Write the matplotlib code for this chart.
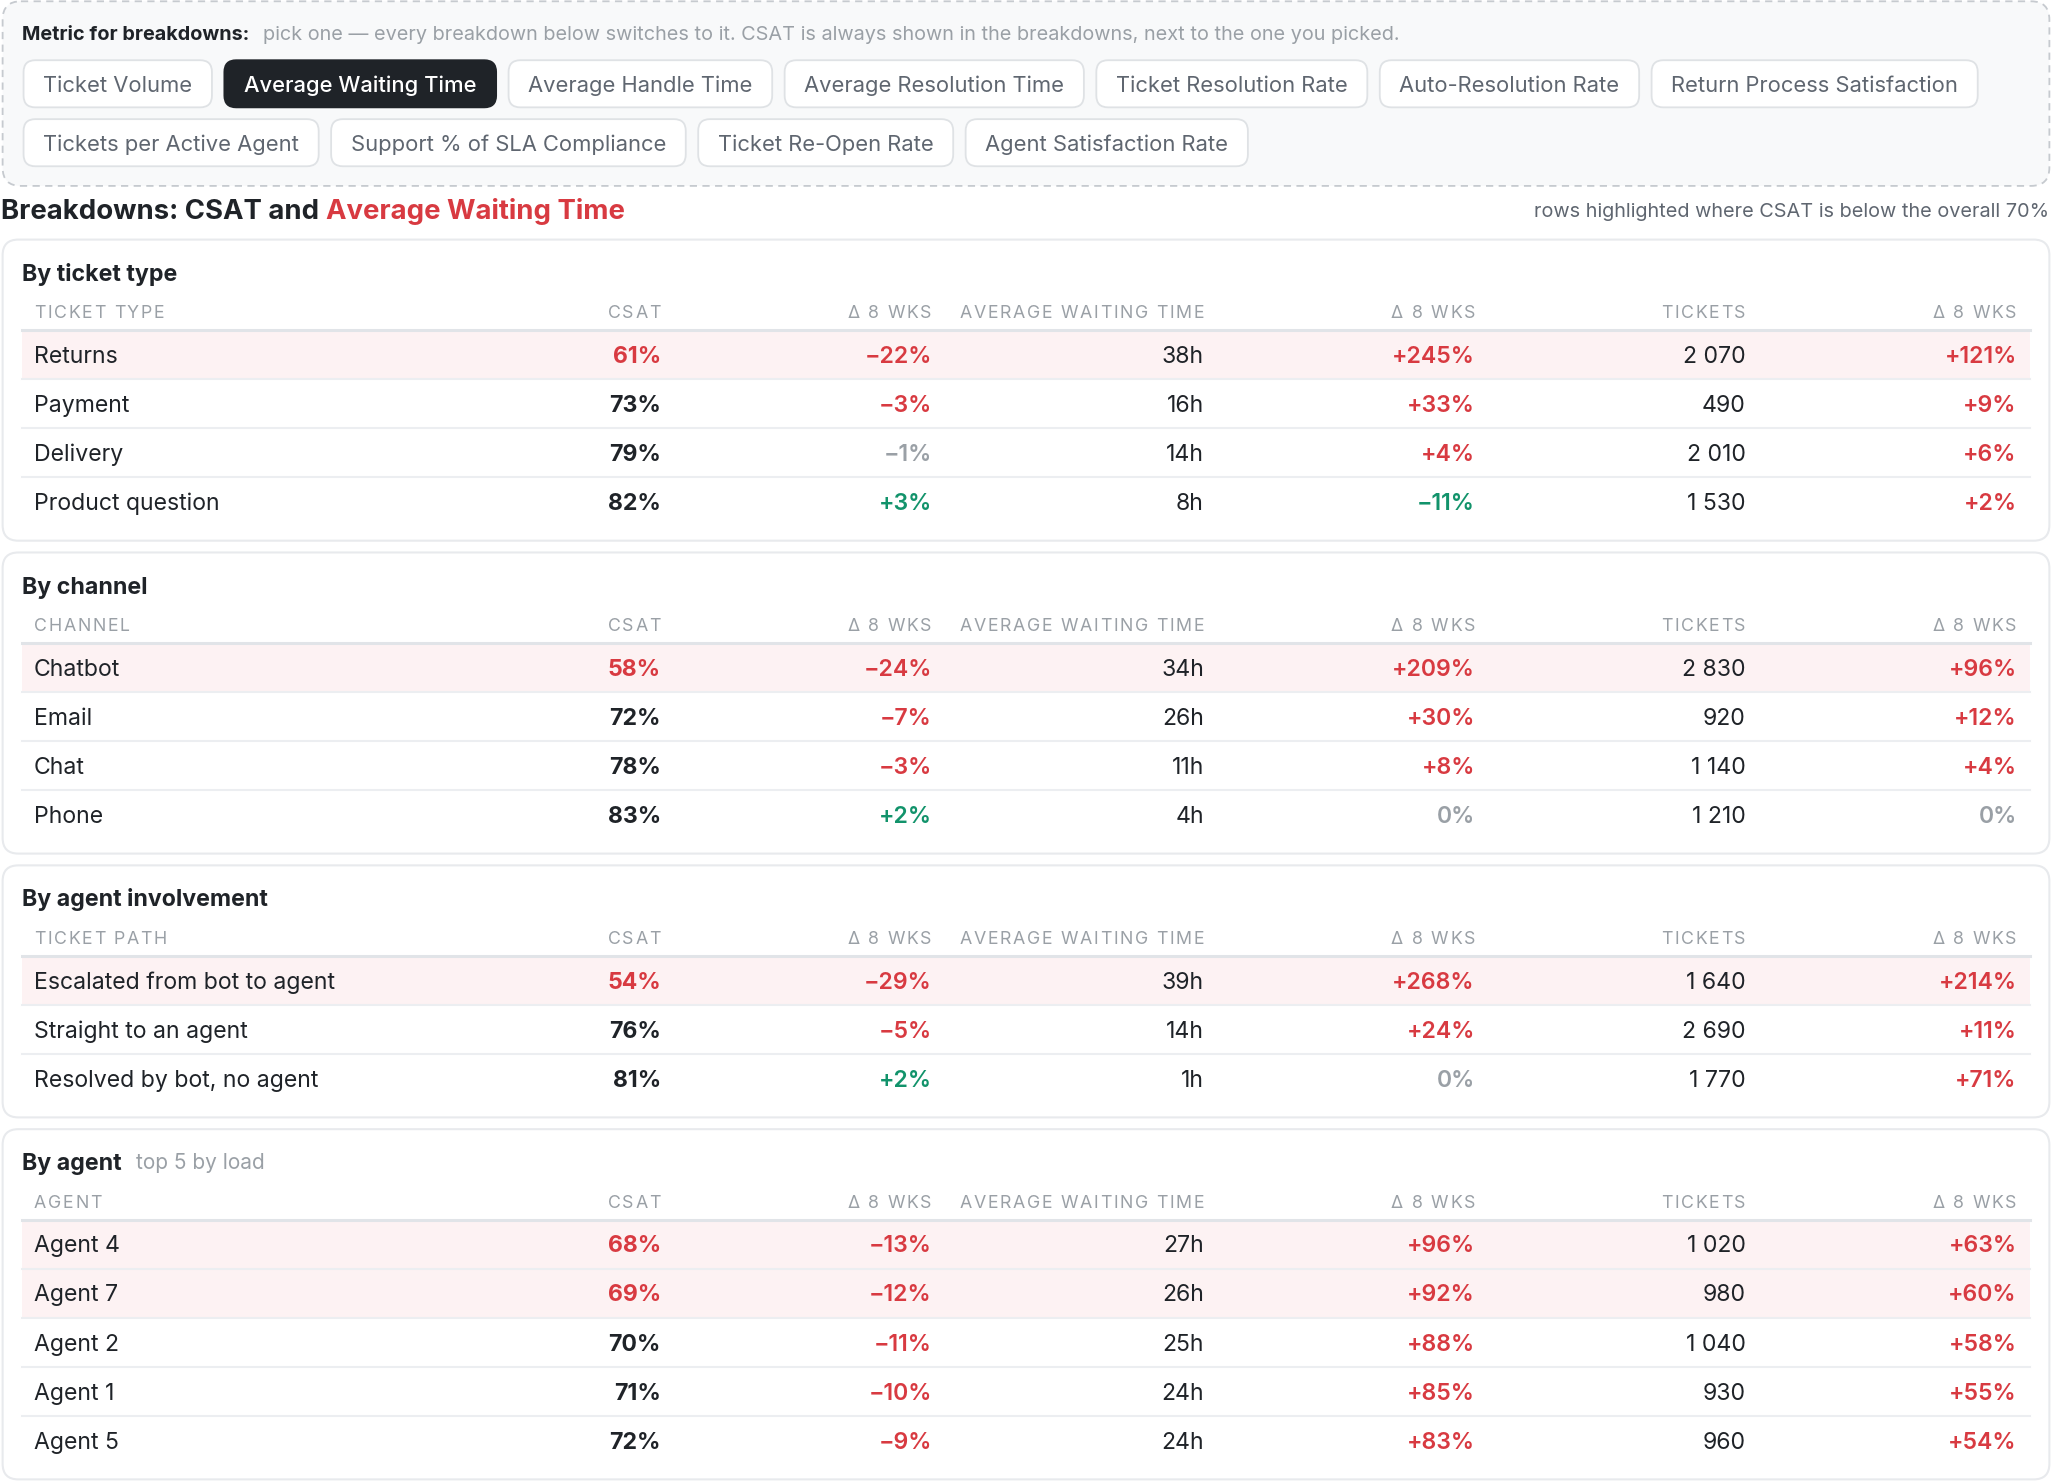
import matplotlib
matplotlib.use("Agg")
import matplotlib.pyplot as plt
from matplotlib.patches import FancyBboxPatch, Rectangle

plt.rcParams['font.family'] = ['Inter', 'DejaVu Sans']

# ---- data ----
metrics = ["Ticket Volume", "Average Waiting Time", "Average Handle Time",
           "Average Resolution Time", "Ticket Resolution Rate", "Auto-Resolution Rate",
           "Return Process Satisfaction", "Tickets per Active Agent",
           "Support % of SLA Compliance", "Ticket Re-Open Rate", "Agent Satisfaction Rate"]
selected_metric = "Average Waiting Time"
overall_csat = 70

section_titles = ["By ticket type", "By channel", "By agent involvement", "By agent"]
section_notes = ["", "", "", "top 5 by load"]
first_col_names = ["TICKET TYPE", "CHANNEL", "TICKET PATH", "AGENT"]
col_headers = ["CSAT", "\u0394 8 WKS", "AVERAGE WAITING TIME", "\u0394 8 WKS", "TICKETS", "\u0394 8 WKS"]

ticket_types = ["Returns", "Payment", "Delivery", "Product question"]
tt_csat = [61, 73, 79, 82]
tt_csat_d = [-22, -3, -1, 3]
tt_wait = [38, 16, 14, 8]
tt_wait_d = [245, 33, 4, -11]
tt_tickets = [2070, 490, 2010, 1530]
tt_tickets_d = [121, 9, 6, 2]

channels = ["Chatbot", "Email", "Chat", "Phone"]
ch_csat = [58, 72, 78, 83]
ch_csat_d = [-24, -7, -3, 2]
ch_wait = [34, 26, 11, 4]
ch_wait_d = [209, 30, 8, 0]
ch_tickets = [2830, 920, 1140, 1210]
ch_tickets_d = [96, 12, 4, 0]

paths = ["Escalated from bot to agent", "Straight to an agent", "Resolved by bot, no agent"]
pa_csat = [54, 76, 81]
pa_csat_d = [-29, -5, 2]
pa_wait = [39, 14, 1]
pa_wait_d = [268, 24, 0]
pa_tickets = [1640, 2690, 1770]
pa_tickets_d = [214, 11, 71]

agents = ["Agent 4", "Agent 7", "Agent 2", "Agent 1", "Agent 5"]
ag_csat = [68, 69, 70, 71, 72]
ag_csat_d = [-13, -12, -11, -10, -9]
ag_wait = [27, 26, 25, 24, 24]
ag_wait_d = [96, 92, 88, 85, 83]
ag_tickets = [1020, 980, 1040, 930, 960]
ag_tickets_d = [63, 60, 58, 55, 54]

sections = [
    (ticket_types, tt_csat, tt_csat_d, tt_wait, tt_wait_d, tt_tickets, tt_tickets_d),
    (channels, ch_csat, ch_csat_d, ch_wait, ch_wait_d, ch_tickets, ch_tickets_d),
    (paths, pa_csat, pa_csat_d, pa_wait, pa_wait_d, pa_tickets, pa_tickets_d),
    (agents, ag_csat, ag_csat_d, ag_wait, ag_wait_d, ag_tickets, ag_tickets_d),
]

# ---- styling ----
DARK = "#1f2328"
GREY = "#9aa0a6"
MID = "#5f6670"
RED = "#d83a41"
GREEN = "#12936b"
HL = "#fdf2f3"
W, H = 1568, 1132
S = 2052 / W
BODY = 16.6

fig = plt.figure(figsize=(20.52, 14.82), dpi=100)
ax = fig.add_axes([0, 0, 1, 1])
ax.set_xlim(0, W)
ax.set_ylim(H, 0)
ax.axis('off')
renderer = fig.canvas.get_renderer()


def put(x, y, s, size, color=DARK, weight='normal', ha='left'):
    em = size / 0.72 / S
    return ax.text(x, y + 0.36 * em, s, fontsize=size, color=color,
                   fontweight=weight, ha=ha, va='baseline')


def right_edge(t):
    bb = t.get_window_extent(renderer)
    return ax.transData.inverted().transform((bb.x1, bb.y0))[0]


def measure(s, size, weight='normal'):
    t = ax.text(0, 0, s, fontsize=size, fontweight=weight)
    w = t.get_window_extent(renderer).width / S
    t.remove()
    return w


def spaced(x, y, s, size, color, ha='left', track=1.3):
    # uppercase header with letter spacing
    total = measure(s, size) + track * (len(s) - 1)
    x0 = x - total if ha == 'right' else x
    for i, ch in enumerate(s):
        if ch == " ":
            continue
        put(x0 + measure(s[:i + 1], size) + i * track, y, ch, size, color, ha='right')


def fmt_delta(d):
    if d == 0:
        return "0%"
    return f"+{d}%" if d > 0 else f"\u2212{abs(d)}%"


def delta_color(d, good_up):
    if abs(d) <= 1:
        return GREY
    better = d > 0 if good_up else d < 0
    return GREEN if better else RED


# ---- metric picker ----
ax.add_patch(FancyBboxPatch((2, 1), W - 4, 141, boxstyle="round,pad=0,rounding_size=14",
                            fc="#f8f9fa", ec="#c6cacf", lw=1.3, ls=(0, (4, 3))))
t = put(17, 25, "Metric for breakdowns:", 14.3, DARK, 'bold')
put(right_edge(t) + 10, 25, "pick one \u2014 every breakdown below switches to it. "
    "CSAT is always shown in the breakdowns, next to the one you picked.", 14.3, GREY)

bx, by = 18, 64
for m in metrics:
    sel = m == selected_metric
    tw = measure(m, 15.8, 'medium' if sel else 'normal')
    bw = tw + 30
    if bx + bw > 1550:
        bx, by = 18, by + 45
    tt = put(bx + 15, by, m, 15.8, "white" if sel else MID, 'medium' if sel else 'normal')
    ax.add_patch(FancyBboxPatch((bx, by - 18), bw, 36, boxstyle="round,pad=0,rounding_size=9",
                                fc=DARK if sel else "white", ec=DARK if sel else "#dfe2e5",
                                lw=1.3, zorder=1))
    tt.set_zorder(2)
    bx += bw + 9.5

# ---- heading ----
t = put(1, 160, "Breakdowns: CSAT and ", 19.8, DARK, 'bold')
put(right_edge(t), 160, selected_metric, 19.8, RED, 'bold')
put(1566, 160, f"rows highlighted where CSAT is below the overall {overall_csat}%", 14.3, MID, ha='right')

# ---- breakdown cards ----
col_x = [505, 712, 920, 1127, 1334, 1541]
row_h = 37.5
top = 183
for k, (labels, csat, csat_d, wait, wait_d, tickets, tickets_d) in enumerate(sections):
    n = len(labels)
    line_y = top + 69
    bottom = line_y + row_h * n + 11
    ax.add_patch(FancyBboxPatch((2, top), W - 4, bottom - top, boxstyle="round,pad=0,rounding_size=12",
                                fc="white", ec="#e8eaed", lw=1.5, zorder=0))
    t = put(17, top + 25, section_titles[k], 16.7, DARK, 'bold')
    if section_notes[k]:
        put(right_edge(t) + 11, top + 25, section_notes[k], 15, GREY)
    spaced(26, top + 55, first_col_names[k], 12.8, GREY)
    for x, h in zip(col_x, col_headers):
        spaced(x, top + 55, h, 12.8, GREY, ha='right')
    ax.plot([17, 1551], [line_y, line_y], color="#e1e4e8", lw=2.2, zorder=3)
    for i in range(n):
        yc = line_y + row_h * (i + 0.5)
        low = csat[i] < overall_csat
        if low:
            ax.add_patch(Rectangle((17, yc - row_h / 2), 1534, row_h, fc=HL, ec='none', zorder=1))
        if i < n - 1:
            ax.plot([17, 1551], [yc + row_h / 2] * 2, color="#eceef1", lw=1.5, zorder=2)
        put(26, yc, labels[i], BODY, DARK)
        put(col_x[0], yc, f"{csat[i]}%", BODY, RED if low else DARK, 'bold', ha='right')
        put(col_x[1], yc, fmt_delta(csat_d[i]), BODY, delta_color(csat_d[i], True), 'semibold', ha='right')
        put(col_x[2], yc, f"{wait[i]}h", BODY, DARK, ha='right')
        put(col_x[3], yc, fmt_delta(wait_d[i]), BODY, delta_color(wait_d[i], False), 'semibold', ha='right')
        put(col_x[4], yc, f"{tickets[i]:,}".replace(",", " "), BODY, DARK, ha='right')
        put(col_x[5], yc, fmt_delta(tickets_d[i]), BODY, delta_color(tickets_d[i], False), 'semibold', ha='right')
    top = bottom + 9

fig.savefig("out.png", dpi=100, facecolor="white")
